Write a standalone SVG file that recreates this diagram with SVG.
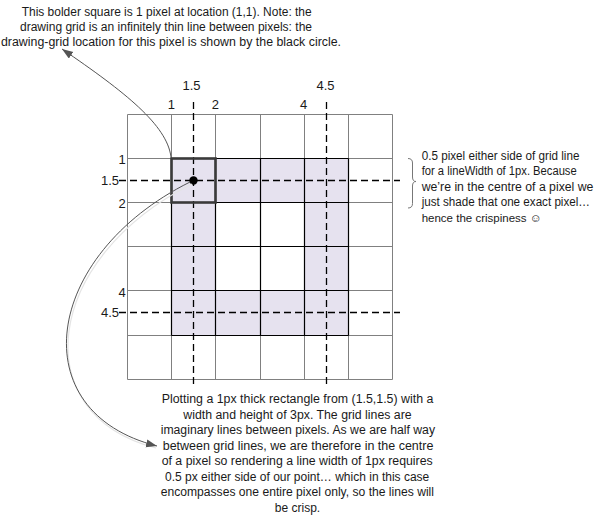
<svg xmlns="http://www.w3.org/2000/svg" width="599" height="518" viewBox="0 0 599 518">
<style>
  text { font-family: "Liberation Sans", "DejaVu Sans", sans-serif; fill: #1a1a1a; }
  .t { font-size: 12px; }
  .lbl { font-size: 13px; }
  .grey { stroke: #808080; stroke-width: 1; fill: none; }
  .blk { stroke: #000; stroke-width: 1.2; fill: none; }
  .dash { stroke: #000; stroke-width: 1.3; stroke-dasharray: 7 4; fill: none; }
  .conn { stroke: #555; stroke-width: 1; fill: none; }
</style>
<defs>
  <marker id="arr" markerUnits="userSpaceOnUse" markerWidth="12" markerHeight="10" refX="11" refY="4" orient="auto">
    <path d="M0,0 L11,4 L0,8 Z" fill="#555"/>
  </marker>
</defs>
<rect width="599" height="518" fill="#fff"/>

<g id="grid">
  <path d="M171.5,158.5 H348.5 V335.5 H171.5 Z M215.5,202.5 V290.5 H304.5 V202.5 Z" fill="#e6e2ef" fill-rule="evenodd"/>
  <path class="grey" d="M127.5,114.5 V379.5 M171.5,114.5 V379.5 M215.5,114.5 V379.5 M260.5,114.5 V379.5 M304.5,114.5 V379.5 M348.5,114.5 V379.5 M392.5,114.5 V379.5 M127.5,114.5 H392.5 M127.5,158.5 H392.5 M127.5,202.5 H392.5 M127.5,246.5 H392.5 M127.5,290.5 H392.5 M127.5,335.5 H392.5 M127.5,379.5 H392.5"/>
  <path class="blk" d="M171.5,158.5 V335.5 M215.5,158.5 V335.5 M260.5,158.5 V335.5 M304.5,158.5 V335.5 M348.5,158.5 V335.5 M171.5,158.5 H348.5 M171.5,202.5 H348.5 M171.5,246.5 H348.5 M171.5,290.5 H348.5 M171.5,335.5 H348.5"/>
</g>

<g id="guides">
  <path class="dash" d="M193.5,102 V387 M326.5,102 V387 M119,180.5 H400 M119,312.5 H400"/>
</g>

<g id="bold-square">
  <rect x="171.5" y="158.5" width="44" height="44" fill="none" stroke="#3a3a3a" stroke-width="2.6"/>
  <circle cx="193.5" cy="180.5" r="4.2" fill="#000"/>
</g>

<g id="labels" class="lbl">
  <text x="191.5" y="89.5" text-anchor="middle">1.5</text>
  <text x="325.5" y="89.5" text-anchor="middle">4.5</text>
  <text x="171.3" y="109" text-anchor="middle">1</text>
  <text x="215.3" y="109" text-anchor="middle">2</text>
  <text x="303.5" y="109" text-anchor="middle">4</text>
  <text x="125.8" y="163.5" text-anchor="end">1</text>
  <text x="119" y="185" text-anchor="end">1.5</text>
  <text x="125.8" y="207.5" text-anchor="end">2</text>
  <text x="125.8" y="296.5" text-anchor="end">4</text>
  <text x="119" y="317" text-anchor="end">4.5</text>
</g>

<g id="note-top" class="t">
  <text x="21.7" y="15.5" textLength="290" lengthAdjust="spacingAndGlyphs">This bolder square is 1 pixel at location (1,1). Note: the</text>
  <text x="20" y="30.5" textLength="292" lengthAdjust="spacingAndGlyphs">drawing grid is an infinitely thin line between pixels: the</text>
  <text x="1" y="45.5" textLength="340" lengthAdjust="spacingAndGlyphs">drawing-grid location for this pixel is shown by the black circle.</text>
</g>

<g id="note-right" class="t">
  <path d="M408,158.5 Q412.5,158.5 412.5,163 L412.5,177 Q412.5,181.5 416,181.5 Q412.5,181.5 412.5,186 L412.5,203.5 Q412.5,208 408,208" fill="none" stroke="#777" stroke-width="1"/>
  <text x="421.7" y="160" textLength="157.7" lengthAdjust="spacingAndGlyphs">0.5 pixel either side of grid line</text>
  <text x="421.7" y="175.4" textLength="155" lengthAdjust="spacingAndGlyphs">for a lineWidth of 1px. Because</text>
  <text x="421.7" y="190.8" textLength="171.7" lengthAdjust="spacingAndGlyphs">we’re in the centre of a pixel we</text>
  <text x="421.7" y="206.2" textLength="168.3" lengthAdjust="spacingAndGlyphs">just shade that one exact pixel…</text>
  <text x="421.7" y="221.6" font-size="11.5">hence the crispiness ☺</text>
</g>

<g id="note-bottom" class="t">
  <text x="161.7" y="403" textLength="271.7" lengthAdjust="spacingAndGlyphs">Plotting a 1px thick rectangle from (1.5,1.5) with a</text>
  <text x="183.3" y="418.5" textLength="228.3" lengthAdjust="spacingAndGlyphs">width and height of 3px. The grid lines are</text>
  <text x="160.7" y="434" textLength="274.3" lengthAdjust="spacingAndGlyphs">imaginary lines between pixels. As we are half way</text>
  <text x="162.7" y="449.5" textLength="270.7" lengthAdjust="spacingAndGlyphs">between grid lines, we are therefore in the centre</text>
  <text x="161.7" y="465" textLength="271" lengthAdjust="spacingAndGlyphs">of a pixel so rendering a line width of 1px requires</text>
  <text x="165" y="480.5" textLength="264.3" lengthAdjust="spacingAndGlyphs">0.5 px either side of our point… which in this case</text>
  <text x="160.7" y="496" textLength="273.3" lengthAdjust="spacingAndGlyphs">encompasses one entire pixel only, so the lines will</text>
  <text x="297.5" y="511.5" text-anchor="middle">be crisp.</text>
</g>

<g id="connectors">
  <path class="conn" d="M171,157 C167,125 125,92 62,49" marker-end="url(#arr)"/>
  <path d="M192,184 C44,258 24,414 156,448" fill="none" stroke="#e4e4e4" stroke-width="1.2"/>
  <path class="conn" d="M190,182 C42,256 22,412 157,446" marker-end="url(#arr)"/>
</g>
</svg>
